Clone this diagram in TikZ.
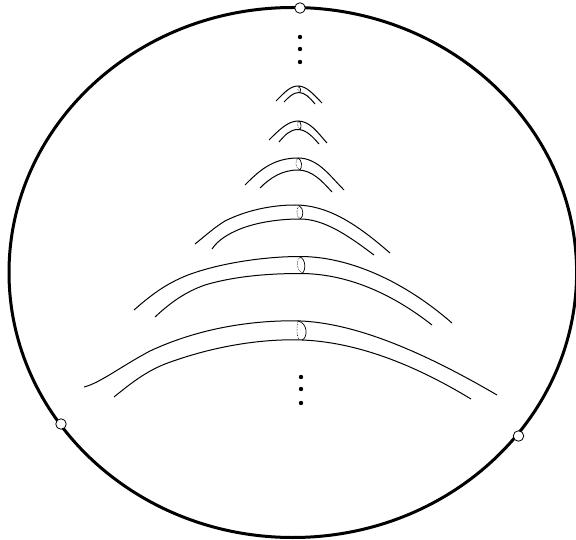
\documentclass[tikz,border=0pt]{standalone}
\begin{document}
\begin{tikzpicture}[
  x=1pt, y=-1pt,
  rim/.style={line width=3pt, draw=black},
  tube/.style={line width=1pt, draw=black},
  front/.style={line width=0.7pt, draw=black},
  back/.style={line width=0.6pt, draw=black, densely dotted},
  puncture/.style={circle, draw=black, fill=white, line width=0.8pt, minimum size=10.5pt, inner sep=0pt},
  dotmark/.style={circle, fill=black, minimum size=4.4pt, inner sep=0pt},
]
\useasboundingbox (0,0) rectangle (576,540);

%% ============ outer disc ============
\draw[rim] (292.8,272.5) ellipse [x radius=283.8, y radius=265];

\node[puncture] (ptop) at (300,8) {};
\node[puncture] (pleft) at (61,424) {};
\node[puncture] (pright) at (518.5,436) {};

%% ============ dots above and below ============
\node[dotmark] (ua) at (300,37) {};
\node[dotmark] (ub) at (300,49) {};
\node[dotmark] (uc) at (300,62) {};
\node[dotmark] (la) at (301,377) {};
\node[dotmark] (lb) at (301,389) {};
\node[dotmark] (lc) at (301,403) {};

%% ============ tubes, smallest first ============
\draw[tube] (276,101) .. controls (284,93) and (290,86) .. (298,86) .. controls (307,86) and (314,95) .. (322,103);
\draw[tube] (284,102) .. controls (289,97) and (293,92.5) .. (299,92.5) .. controls (305,92.5) and (310,98) .. (315,104);
\draw[front] (299,86) .. controls (301,88) and (301,91) .. (300,92.5);
\draw[back] (299,86) .. controls (297.5,88) and (297.5,91) .. (300,92.5);

\draw[tube] (269,140) .. controls (279,130) and (288,121) .. (298,121) .. controls (310,121) and (318,133) .. (327,143);
\draw[tube] (279,142) .. controls (285,135) and (290,129.5) .. (298,129.5) .. controls (306,129.5) and (313,137) .. (319,144);
\draw[front] (299,121) .. controls (301.5,123) and (301.5,127) .. (300,129.5);
\draw[back] (299,121) .. controls (297,123) and (297,127) .. (300,129.5);

\draw[tube] (245,185) .. controls (258,172) and (272,158) .. (298,158) .. controls (318,158) and (330,176) .. (344,190);
\draw[tube] (260,188) .. controls (270,178) and (282,170) .. (298,170) .. controls (312,170) and (322,181) .. (332,192);
\draw[front] (298,158) .. controls (302,160) and (302.5,167) .. (300,170);
\draw[back] (298,158) .. controls (295,161) and (295,167) .. (300,170);

\draw[tube] (195,244) .. controls (205,236) and (215,227) .. (225,221) .. controls (245,211) and (270,205) .. (295,205) .. controls (330,205) and (360,227) .. (390,253);
\draw[tube] (212,249) .. controls (218,240) and (228,234) .. (240,229) .. controls (258,222) and (280,219) .. (300,219) .. controls (325,219) and (350,237) .. (374,255);
\draw[front] (299,205.5) .. controls (304,208) and (304,217) .. (300,219);
\draw[back] (299,205.5) .. controls (296,209) and (296,216) .. (300,219);

\draw[tube] (134,310) .. controls (150,296) and (165,284) .. (188,275) .. controls (220,263) and (265,256.5) .. (300,256.5) .. controls (350,256.5) and (405,282) .. (452,323);
\draw[tube] (155,317) .. controls (170,303) and (185,292) .. (205,285) .. controls (235,276) and (270,273.5) .. (300,273.5) .. controls (345,273.5) and (390,292) .. (432,325);
\draw[front] (300,257) .. controls (306,259) and (306,271) .. (302,273.5);
\draw[back] (300,257) .. controls (296,260) and (296,270) .. (302,273.5);

\draw[tube] (84,387) .. controls (100,383) and (120,367) .. (150,351) .. controls (195,330) and (245,320.8) .. (293,320.8) .. controls (350,320.8) and (420,350) .. (497,395);
\draw[tube] (114,397) .. controls (130,384) and (145,372) .. (165,364) .. controls (205,349) and (250,339.8) .. (293,339.8) .. controls (350,339.8) and (410,362) .. (471,399);
\draw[front] (298,321) .. controls (308,323) and (308,338) .. (302,340);
\draw[back] (298,321) .. controls (296.5,326) and (296.5,336) .. (299,340);

\end{tikzpicture}
\end{document}
